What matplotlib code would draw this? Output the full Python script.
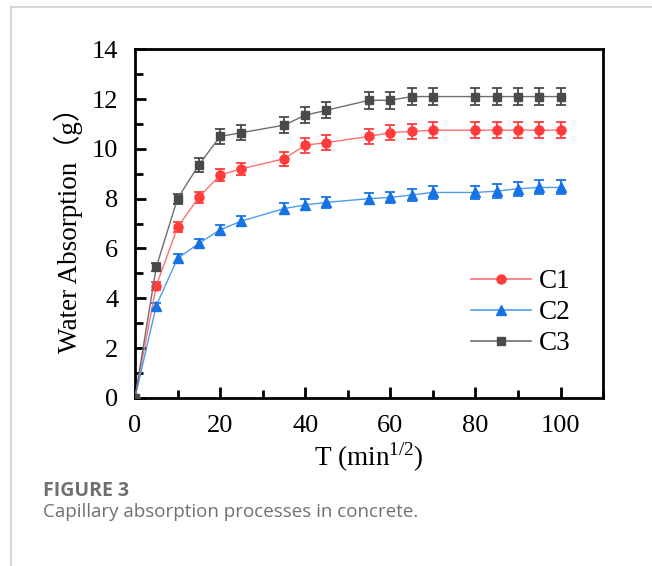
import matplotlib
matplotlib.use("Agg")
import matplotlib.pyplot as plt
from matplotlib.ticker import MultipleLocator
from matplotlib.lines import Line2D

plt.rcParams['font.family'] = ['Liberation Serif', 'Noto Sans CJK SC']
plt.rcParams['mathtext.fontset'] = 'custom'
plt.rcParams['mathtext.rm'] = 'Liberation Serif'

t = [0, 5, 10, 15, 20, 25, 35, 40, 45, 55, 60, 65, 70, 80, 85, 90, 95, 100]
c1 = [0, 4.5, 6.85, 8.05, 8.95, 9.2, 9.6, 10.15, 10.25, 10.5, 10.65, 10.7, 10.75, 10.75, 10.75, 10.75, 10.75, 10.75]
c1_err = [0.05, 0.15, 0.2, 0.22, 0.25, 0.25, 0.28, 0.3, 0.3, 0.3, 0.3, 0.3, 0.32, 0.32, 0.32, 0.32, 0.32, 0.32]
c2 = [0, 3.7, 5.6, 6.2, 6.75, 7.1, 7.6, 7.75, 7.85, 8.0, 8.05, 8.15, 8.25, 8.25, 8.3, 8.4, 8.45, 8.45]
c2_err = [0.05, 0.12, 0.18, 0.2, 0.2, 0.2, 0.22, 0.22, 0.22, 0.22, 0.22, 0.25, 0.25, 0.25, 0.28, 0.28, 0.28, 0.28]
c3 = [0, 5.25, 8.0, 9.35, 10.5, 10.65, 10.95, 11.35, 11.55, 11.95, 11.95, 12.1, 12.1, 12.1, 12.1, 12.1, 12.1, 12.1]
c3_err = [0.05, 0.15, 0.2, 0.28, 0.3, 0.3, 0.32, 0.32, 0.32, 0.35, 0.35, 0.35, 0.35, 0.35, 0.35, 0.35, 0.35, 0.35]
labels = ["C1", "C2", "C3"]

fig = plt.figure(figsize=(6.52, 5.66), dpi=100)
fig.patch.set_facecolor('white')
ax = fig.add_axes([0.207, 0.297, 0.718, 0.616])

series = [
    (c1, c1_err, '#FF3B3B', '#FF7070', 'o', 6.5),
    (c2, c2_err, '#1673E6', '#4E9BF0', '^', 7),
    (c3, c3_err, '#4A4A4A', '#6E6E6E', 's', 5.5),
]
handles = []
for (y, e, mc, lc, m, ms), lab in zip(series, labels):
    ax.errorbar(t, y, yerr=e, color=lc, ecolor=mc, elinewidth=1.3, capsize=3.5,
                capthick=1.3, lw=1.0, marker=m, ms=ms, mfc=mc, mec=mc, zorder=3)
    handles.append(Line2D([], [], color=lc, lw=1.2, marker=m, ms=ms, mfc=mc, mec=mc, label=lab))

ax.set_xlim(0, 110)
ax.set_ylim(0, 14)
ax.set_xticks([0, 20, 40, 60, 80, 100])
ax.xaxis.set_minor_locator(MultipleLocator(10))
ax.yaxis.set_major_locator(MultipleLocator(2))
ax.yaxis.set_minor_locator(MultipleLocator(1))
ax.tick_params(which='both', direction='in', top=False, right=False, width=2, labelsize=19, pad=12)
ax.tick_params(which='major', length=8)
ax.tick_params(which='minor', length=6)
for s in ax.spines.values():
    s.set_linewidth(2)

ax.set_xlabel(r'T (min$^{\mathregular{1/2}}$)', fontsize=19.5, labelpad=3)
ax.set_ylabel('Water Absorption\uff08g\uff09', fontsize=19.5, labelpad=6)

ax.legend(handles=handles, loc='center', bbox_to_anchor=(0.825, 0.244), frameon=False,
          prop={'size': 19.5}, handlelength=2.2, labelspacing=0.22,
          handletextpad=0.3)

# caption frame lines
fig.add_artist(Line2D([11/652, 11/652], [0, 1 - 7/566], transform=fig.transFigure, color='#D0D0D0', lw=1.2))
fig.add_artist(Line2D([11/652, 1], [1 - 7/566, 1 - 7/566], transform=fig.transFigure, color='#D0D0D0', lw=1.2))

fig.text(43/652, 1 - 491/566, 'FIGURE 3', fontsize=14, fontweight='bold', color='#707070',
         family='Open Sans', va='center', ha='left')
fig.text(43/652, 1 - 512/566, 'Capillary absorption processes in concrete.', fontsize=13.5,
         color='#707070', family='Open Sans', va='center', ha='left')

fig.savefig('out.png', dpi=100, facecolor='white')
